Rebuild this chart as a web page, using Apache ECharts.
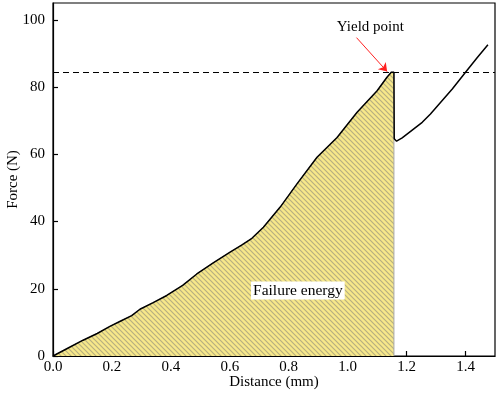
<!DOCTYPE html>
<html>
<head>
<meta charset="utf-8">
<script src="https://cdn.jsdelivr.net/npm/echarts@6/dist/echarts.min.js"></script>
<style>
  html, body { margin: 0; padding: 0; background: #fff; }
  #main { width: 498px; height: 393px; }
</style>
</head>
<body>
<div id="main"></div>
<script>
// force-distance curve
const distance = [0.000, 0.050, 0.102, 0.150, 0.193, 0.230, 0.267, 0.295, 0.340, 0.386,
  0.440, 0.488, 0.545, 0.601, 0.640, 0.675, 0.714, 0.771, 0.828, 0.896,
  0.964, 1.032, 1.100, 1.134, 1.148, 1.157,
  1.158, 1.166, 1.185, 1.219, 1.253, 1.281, 1.315, 1.355, 1.400, 1.440, 1.476];
const force = [0.0, 2.3, 4.7, 6.7, 8.8, 10.4, 12.0, 13.9, 15.9, 18.0,
  21.0, 24.4, 27.8, 30.9, 33.0, 35.0, 38.3, 44.3, 51.2, 59.1,
  65.0, 72.5, 78.9, 83.0, 84.4, 84.4,
  64.6, 63.9, 64.9, 67.2, 69.5, 72.0, 75.4, 79.4, 84.4, 88.8, 92.6];
const yieldIndex = 25;          // last point of the shaded region
const yieldForce = 84.5;        // dashed reference line
const arrowFrom = [1.030, 94.7];
const arrowTo = [1.134, 84.6];
const yieldLabelPos = [1.077, 97.9];
const energyLabelPos = [0.831, 19.5];
const xTicks = { min: 0, max: 1.5, interval: 0.2 };
const yTicks = { min: 0, max: 105, interval: 20 };

const curve = distance.map((d, i) => [d, force[i]]);
const shaded = curve.slice(0, yieldIndex + 1);
shaded.push([distance[yieldIndex], 0]);

// hatch pattern for the failure energy area
const hatch = document.createElement('canvas');
hatch.width = 5;
hatch.height = 5;
const ctx = hatch.getContext('2d');
ctx.fillStyle = '#f7e88a';
ctx.fillRect(0, 0, 5, 5);
ctx.strokeStyle = '#b7af80';
ctx.lineWidth = 1.2;
ctx.beginPath();
ctx.moveTo(-1, -1); ctx.lineTo(6, 6);
ctx.moveTo(4, -1); ctx.lineTo(6, 1);
ctx.moveTo(-1, 4); ctx.lineTo(1, 6);
ctx.stroke();

const font = 'Liberation Serif';
const axisCommon = {
  axisLine: { show: true, onZero: false, lineStyle: { color: '#000', width: 1.2 } },
  axisTick: { show: true, inside: true, length: 5, lineStyle: { color: '#000', width: 1.2 } },
  splitLine: { show: false },
  nameLocation: 'middle',
  nameMoveOverlap: false,
  nameTextStyle: { fontFamily: font, fontSize: 15, color: '#000' },
};

const myChart = echarts.init(document.getElementById('main'));
myChart.setOption({
  animation: false,
  grid: {
    show: true, borderColor: '#000', borderWidth: 1.2,
    left: 53, right: 3, top: 3, bottom: 37,
    containLabel: false,
    outerBoundsMode: 'none',
  },
  xAxis: {
    ...axisCommon,
    type: 'value',
    min: xTicks.min, max: xTicks.max, interval: xTicks.interval,
    name: 'Distance (mm)',
    nameGap: 19,
    axisLabel: {
      fontFamily: font, fontSize: 15, color: '#000', margin: 4,
      showMaxLabel: false,
      formatter: (v) => v.toFixed(1),
    },
  },
  yAxis: {
    ...axisCommon,
    type: 'value',
    min: yTicks.min, max: yTicks.max, interval: yTicks.interval,
    name: 'Force (N)',
    nameGap: 32,
    axisLabel: {
      fontFamily: font, fontSize: 15, color: '#000', margin: 8,
      showMaxLabel: false,
    },
  },
  series: [
    {
      name: 'Failure energy',
      type: 'line',
      data: shaded,
      showSymbol: false,
      lineStyle: { color: '#a9a9a9', width: 1 },
      areaStyle: { color: { image: hatch, repeat: 'repeat' }, opacity: 1 },
      markLine: {
        silent: true,
        symbol: 'none',
        label: { show: false },
        lineStyle: { color: '#000', width: 1, type: [6, 4] },
        data: [{ yAxis: yieldForce }],
      },
      markPoint: {
        symbolSize: 0,
        label: {
          show: true, position: 'inside', formatter: 'Failure energy',
          fontFamily: font, fontSize: 15.5, color: '#000',
          backgroundColor: '#fff', padding: [1, 2],
        },
        data: [{ coord: energyLabelPos }],
      },
    },
    {
      name: 'Force',
      type: 'line',
      data: curve,
      showSymbol: false,
      lineStyle: { color: '#000', width: 1.5 },
      markLine: {
        silent: true,
        symbol: ['none', 'arrow'],
        symbolSize: 8,
        label: { show: false },
        lineStyle: { color: '#ff2020', width: 1, type: 'solid' },
        data: [[{ coord: arrowFrom }, { coord: arrowTo }]],
      },
      markPoint: {
        symbolSize: 0,
        label: {
          show: true, position: 'inside', formatter: 'Yield point',
          fontFamily: font, fontSize: 15, color: '#000',
        },
        data: [{ coord: yieldLabelPos }],
      },
    },
  ],
});
</script>
</body>
</html>
